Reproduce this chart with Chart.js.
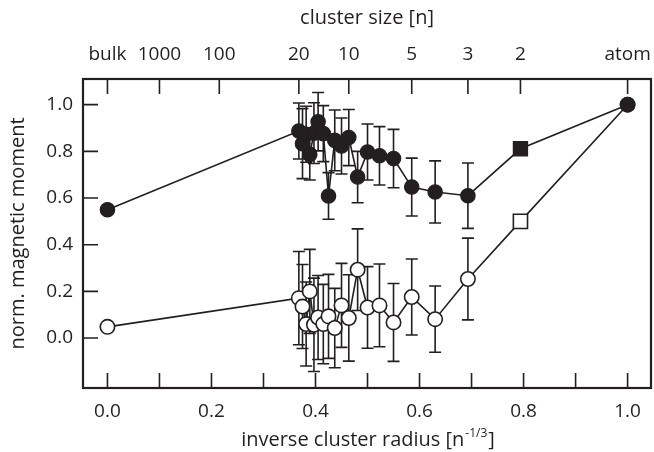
<!DOCTYPE html>
<html><head><meta charset="utf-8">
<script src="https://cdn.jsdelivr.net/npm/chart.js@4"></script>
<style>html,body{margin:0;padding:0;background:#fff;overflow:hidden;} canvas{display:block;}</style>
</head><body>
<canvas id="c" width="654" height="452"></canvas>
<script>
// ---- data ----
const filledX = [0, 0.368, 0.375, 0.382, 0.389, 0.397, 0.405, 0.415, 0.425, 0.437, 0.450, 0.464, 0.481, 0.500, 0.523, 0.550, 0.585, 0.630, 0.693, 0.794, 1.0];
const filledY = [0.55, 0.887, 0.833, 0.873, 0.787, 0.878, 0.927, 0.876, 0.609, 0.847, 0.823, 0.859, 0.690, 0.797, 0.781, 0.769, 0.647, 0.626, 0.610, 0.811, 1.0];
const filledErr = [null, 0.12, 0.15, 0.12, 0.11, 0.13, 0.125, 0.12, 0.10, 0.13, 0.12, 0.12, 0.11, 0.12, 0.125, 0.125, 0.124, 0.133, 0.14, null, null];

const hollowX = [0, 0.368, 0.375, 0.382, 0.389, 0.397, 0.405, 0.415, 0.425, 0.437, 0.450, 0.464, 0.481, 0.500, 0.523, 0.550, 0.585, 0.630, 0.693, 0.794, 1.0];
const hollowY = [0.048, 0.171, 0.135, 0.060, 0.200, 0.057, 0.088, 0.060, 0.093, 0.043, 0.140, 0.086, 0.293, 0.131, 0.140, 0.067, 0.176, 0.081, 0.253, 0.50, 1.0];
const hollowErr = [null, 0.20, 0.18, 0.18, 0.18, 0.20, 0.18, 0.17, 0.18, 0.17, 0.18, 0.185, 0.175, 0.175, 0.177, 0.167, 0.163, 0.142, 0.175, null, null];

const bottomTickLabels = [0, 0.2, 0.4, 0.6, 0.8, 1.0];
const bottomMinorTicks = [0, 0.1, 0.2, 0.3, 0.4, 0.5, 0.6, 0.7, 0.8, 0.9, 1.0];
const yTickValues = [0, 0.2, 0.4, 0.6, 0.8, 1.0];
const topTickPositions = [0, 0.1, 0.215, 0.368, 0.464, 0.585, 0.693, 0.794, 1.0];
const topTickLabels = ['bulk', '1000', '100', '20', '10', '5', '3', '2', 'atom'];

const INK = '#231f20';
const FONT = '"Open Sans", "DejaVu Sans", sans-serif';

function pts(xs, ys) { return xs.map((x, i) => ({x: x, y: ys[i]})); }
function styles(xs) { return xs.map(x => Math.abs(x - 0.794) < 1e-6 ? 'rect' : 'circle'); }
function radii(xs) { return xs.map(x => Math.abs(x - 0.794) < 1e-6 ? 10 : 7.2); }

// keep the plot frame's right edge where the reference has it
const areaPlugin = {
  id: 'areaFix',
  afterLayout(chart) {
    const a = chart.chartArea;
    const R = Math.min(651, chart.width - 3);
    if (a.right >= R) return;
    a.right = R; a.width = R - a.left;
    ['x', 'xTop'].forEach(id => {
      const s = chart.scales[id];
      s.right = R; s.width = R - s.left;
      if (typeof s.configure === 'function') s.configure();
    });
  }
};

const errorBarPlugin = {
  id: 'errbars',
  beforeDatasetsDraw(chart) {
    const ctx = chart.ctx, xs = chart.scales.x, ys = chart.scales.y;
    ctx.save();
    ctx.strokeStyle = INK; ctx.lineWidth = 1.6;
    chart.data.datasets.forEach(ds => {
      if (!ds.errors) return;
      ds.data.forEach((p, i) => {
        const e = ds.errors[i];
        if (e == null) return;
        const px = xs.getPixelForValue(p.x);
        const yt = ys.getPixelForValue(p.y + e), yb = ys.getPixelForValue(p.y - e);
        ctx.beginPath();
        ctx.moveTo(px, yt); ctx.lineTo(px, yb);
        ctx.moveTo(px - 6, yt); ctx.lineTo(px + 6, yt);
        ctx.moveTo(px - 6, yb); ctx.lineTo(px + 6, yb);
        ctx.stroke();
      });
    });
    ctx.restore();
  }
};

const framePlugin = {
  id: 'frame',
  afterDraw(chart) {
    const ctx = chart.ctx, a = chart.chartArea;
    const xs = chart.scales.x, ys = chart.scales.y, xt = chart.scales.xTop;
    ctx.save();
    ctx.strokeStyle = INK;
    ctx.lineWidth = 1.6;
    ctx.beginPath();
    bottomMinorTicks.forEach(v => { const p = xs.getPixelForValue(v); ctx.moveTo(p, a.bottom); ctx.lineTo(p, a.bottom - 15); });
    topTickPositions.forEach(v => { const p = xt.getPixelForValue(v); ctx.moveTo(p, a.top); ctx.lineTo(p, a.top + 15); });
    yTickValues.forEach(v => { const p = ys.getPixelForValue(v); ctx.moveTo(a.left, p); ctx.lineTo(a.left + 15, p); });
    ctx.stroke();
    ctx.lineWidth = 2.2;
    ctx.strokeRect(a.left, a.top, a.right - a.left, a.bottom - a.top);
    // bottom axis title with superscript
    ctx.fillStyle = INK;
    ctx.textBaseline = 'alphabetic';
    ctx.textAlign = 'left';
    const main = 'inverse cluster radius [n', sup = '-1/3', end = ']';
    ctx.font = '20px ' + FONT; const w1 = ctx.measureText(main).width, w3 = ctx.measureText(end).width;
    ctx.font = '12px ' + FONT; const w2 = ctx.measureText(sup).width;
    const cx = (a.left + a.right) / 2;
    let x0 = cx - (w1 + w2 + w3) / 2;
    const base = 446;
    ctx.font = '20px ' + FONT; ctx.fillText(main, x0, base);
    ctx.font = '12px ' + FONT; ctx.fillText(sup, x0 + w1 + 1, base - 9);
    ctx.font = '20px ' + FONT; ctx.fillText(end, x0 + w1 + w2 + 2, base);
    ctx.restore();
  }
};

new Chart(document.getElementById('c'), {
  type: 'scatter',
  data: {
    datasets: [
      {
        label: 'filled', data: pts(filledX, filledY), errors: filledErr,
        showLine: true, borderColor: INK, borderWidth: 1.6,
        backgroundColor: INK, pointBackgroundColor: INK, pointBorderColor: INK,
        pointStyle: styles(filledX), pointRadius: radii(filledX), pointBorderWidth: 1.2
      },
      {
        label: 'hollow', data: pts(hollowX, hollowY), errors: hollowErr,
        showLine: true, borderColor: INK, borderWidth: 1.6,
        backgroundColor: '#fff', pointBackgroundColor: '#fff', pointBorderColor: INK,
        pointStyle: styles(hollowX), pointRadius: radii(hollowX), pointBorderWidth: 1.6
      }
    ]
  },
  options: {
    responsive: false, animation: false, devicePixelRatio: 1,
    layout: { autoPadding: false, padding: { left: 0, right: 3, top: 0, bottom: 0 } },
    plugins: { legend: { display: false }, tooltip: { enabled: false } },
    scales: {
      x: {
        type: 'linear', position: 'bottom', min: -0.047, max: 1.045,
        grid: { display: false, drawTicks: false }, border: { display: false },
        afterBuildTicks: s => { s.ticks = bottomTickLabels.map(v => ({ value: v })); },
        afterFit: s => { s.height = 64; },
        ticks: { color: INK, padding: 12, font: { family: FONT, size: 19 }, maxRotation: 0,
                 callback: v => Number(v).toFixed(1) }
      },
      xTop: {
        type: 'linear', position: 'top', min: -0.047, max: 1.045,
        grid: { display: false, drawTicks: false }, border: { display: false },
        afterBuildTicks: s => { s.ticks = topTickPositions.map(v => ({ value: v })); },
        afterFit: s => { s.height = 79; },
        ticks: { color: INK, padding: 13, font: { family: FONT, size: 19 }, maxRotation: 0, autoSkip: false,
                 callback: (v, i) => topTickLabels[i] },
        title: { display: true, text: 'cluster size [n]', color: INK, font: { family: FONT, size: 20 }, padding: { top: 6 } }
      },
      y: {
        type: 'linear', position: 'left', min: -0.214, max: 1.11,
        grid: { display: false, drawTicks: false }, border: { display: false },
        afterBuildTicks: s => { s.ticks = yTickValues.map(v => ({ value: v })); },
        afterFit: s => { s.width = 83; },
        ticks: { color: INK, padding: 10, font: { family: FONT, size: 19 },
                 callback: v => Number(v).toFixed(1) },
        title: { display: true, text: 'norm. magnetic moment', color: INK, font: { family: FONT, size: 20 }, padding: { top: 6 } }
      }
    }
  },
  plugins: [areaPlugin, errorBarPlugin, framePlugin]
});
</script>
</body></html>
